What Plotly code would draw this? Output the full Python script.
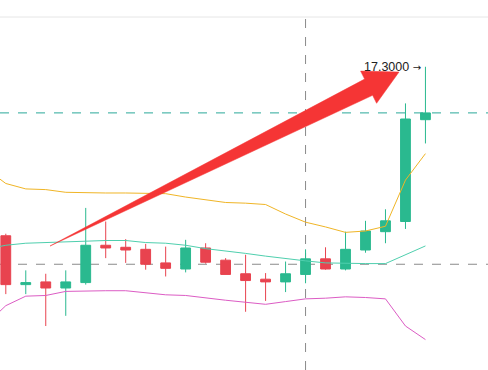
import plotly.graph_objects as go

# ---- data ----
idx = list(range(22))
opens  = [14.81, 14.09, 14.13, 14.04, 14.12, 14.67, 14.64, 14.61, 14.41, 14.32, 14.63,
          14.45, 14.25, 14.17, 14.13, 14.24, 14.47, 14.32, 14.60, 14.87, 15.02, 16.52]
highs  = [14.84, 14.30, 14.25, 14.30, 15.22, 15.02, 14.76, 14.69, 14.65, 14.75, 14.70,
          14.48, 14.53, 14.26, 14.43, 14.61, 14.64, 14.87, 15.03, 15.20, 16.76, 17.30]
lows   = [13.95, 13.95, 13.48, 13.63, 14.09, 14.48, 14.41, 14.31, 14.21, 14.27, 14.40,
          14.24, 13.69, 13.85, 13.98, 14.11, 14.31, 14.30, 14.56, 14.70, 14.91, 16.17]
closes = [14.09, 14.12, 14.04, 14.13, 14.67, 14.63, 14.60, 14.39, 14.33, 14.63, 14.42,
          14.24, 14.15, 14.13, 14.25, 14.47, 14.32, 14.61, 14.88, 15.03, 16.53, 16.62]

band_idx = list(range(-1, 22))
boll_upper = [15.80, 15.58, 15.50, 15.49, 15.45, 15.44, 15.44, 15.44, 15.43, 15.43, 15.38, 15.34,
              15.30, 15.29, 15.27, 15.13, 15.01, 14.94, 14.86, 14.88, 14.95, 15.63, 16.02]
boll_mid   = [14.61, 14.67, 14.70, 14.71, 14.72, 14.74, 14.74, 14.74, 14.71, 14.70, 14.67, 14.62,
              14.59, 14.55, 14.51, 14.47, 14.44, 14.41, 14.40, 14.40, 14.40, 14.53, 14.66]
boll_lower = [13.50, 13.78, 13.92, 13.93, 13.99, 14.00, 14.00, 14.00, 13.97, 13.94, 13.93, 13.89,
              13.86, 13.83, 13.80, 13.84, 13.88, 13.89, 13.91, 13.90, 13.88, 13.48, 13.28]

crosshair_idx = 15
crosshair_price = 14.39
max_label = "17.3000"

# ---- style ----
W, H = 488, 370
TOP = 17
UP = "#2ab98f"
DOWN = "#e8434f"

fig = go.Figure()
fig.add_trace(go.Candlestick(
    x=idx, open=opens, high=highs, low=lows, close=closes,
    increasing=dict(line=dict(color=UP, width=1), fillcolor=UP),
    decreasing=dict(line=dict(color=DOWN, width=1), fillcolor=DOWN),
    whiskerwidth=0, hoverinfo="skip",
))
fig.add_trace(go.Scatter(x=band_idx, y=boll_upper, mode="lines",
                         line=dict(color="#f0b526", width=1), hoverinfo="skip"))
fig.add_trace(go.Scatter(x=band_idx, y=boll_mid, mode="lines",
                         line=dict(color="#4fcfae", width=1), hoverinfo="skip"))
fig.add_trace(go.Scatter(x=band_idx, y=boll_lower, mode="lines",
                         line=dict(color="#dc5cc4", width=1), hoverinfo="skip"))

# reference / crosshair lines
fig.add_shape(type="line", xref="paper", x0=0, x1=1, yref="y",
              y0=closes[-1], y1=closes[-1], layer="below",
              line=dict(color="#2aa89a", width=1, dash="dash"))
fig.add_shape(type="line", xref="paper", x0=0, x1=1, yref="y",
              y0=crosshair_price, y1=crosshair_price, layer="below",
              line=dict(color="#8a8a8a", width=1, dash="dash"))
fig.add_shape(type="line", xref="x", x0=crosshair_idx, x1=crosshair_idx,
              yref="paper", y0=0, y1=1, layer="below",
              line=dict(color="#8a8a8a", width=1, dash="dash"))

# header separator line
fig.add_shape(type="line", xref="paper", x0=0, x1=1, yref="paper", y0=1, y1=1,
              line=dict(color="#e6e6e6", width=1))

# red drawn arrow (pixel coords of the overlay drawing)
ARROW_PX = [(50, 246), (364.6, 79.1), (360.6, 71.1), (399, 72), (376.6, 103.3), (372.6, 95.3)]
def px_to_paper(p):
    x, y = p
    return x / W, (H - y) / (H - TOP)
pts = [px_to_paper(p) for p in ARROW_PX]
path = "M " + " L ".join(f"{x:.5f},{y:.5f}" for x, y in pts) + " Z"
fig.add_shape(type="path", path=path, xref="paper", yref="paper",
              fillcolor="#f53535", line=dict(color="#f53535", width=0.5), layer="above")

# max price label with pointer arrow
fig.add_annotation(x=idx[-1], y=highs[-1],
                   text=max_label + ' <span style="font-family:DejaVu Sans;font-size:10px">→</span>',
                   showarrow=False, xanchor="right", yanchor="middle", xshift=-2,
                   font=dict(family="Liberation Sans, Arial, sans-serif", size=12.5, color="#222222"))

y_top = 18.033
y_bot = 12.832
fig.update_layout(
    width=W, height=H, autosize=False,
    margin=dict(l=0, r=0, t=TOP, b=0, pad=0),
    paper_bgcolor="white", plot_bgcolor="white",
    showlegend=False,
    xaxis=dict(range=[-0.29, 24.13], visible=False, rangeslider=dict(visible=False),
               showgrid=False, zeroline=False),
    yaxis=dict(range=[y_bot, y_top], visible=False, showgrid=False, zeroline=False),
    hovermode=False,
)

fig.write_html("out.html", config={"displayModeBar": False},
               post_script="document.body.style.margin='0';document.body.style.padding='0';")
